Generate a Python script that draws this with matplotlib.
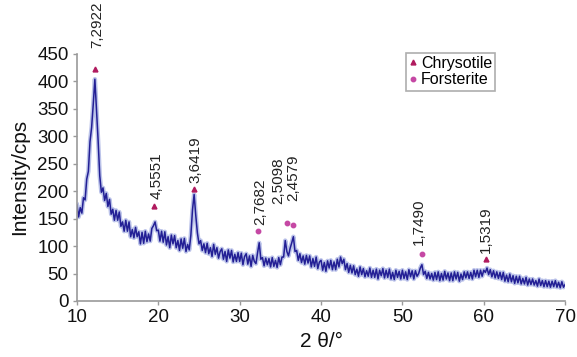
import numpy as np
import matplotlib
matplotlib.use('Agg')
import matplotlib.pyplot as plt

plt.rcParams['font.family'] = ['Liberation Sans', 'DejaVu Sans']

# XRD scan, 2 theta from 10 to 70 deg in 0.2 deg steps
two_theta = np.round(np.arange(10.0, 70.001, 0.2), 1)
intensity = [
    175, 153, 170, 160, 188, 184, 222, 236, 290, 316,   # 10-11.8
    358, 404, 348, 292, 228, 198, 206, 183, 196, 172,   # 12-13.8
    185, 158, 167, 147, 165, 147, 162, 136, 144, 127,   # 14-15.8
    147, 127, 144, 117, 130, 115, 134, 117, 126, 104,   # 16-17.8
    125, 105, 127, 108, 122, 109, 132, 137, 144, 128,   # 18-19.8
    129, 109, 127, 107, 126, 102, 117, 97, 120, 104,    # 20-21.8
    119, 97, 110, 92, 113, 96, 114, 90, 103, 93,        # 22-23.8
    120, 166, 194, 156, 124, 104, 110, 92, 104, 88,     # 24-25.8
    105, 86, 97, 81, 103, 85, 97, 78, 90, 95,           # 26-27.8
    76, 90, 72, 93, 78, 92, 71, 85, 72, 88,             # 28-29.8
    72, 87, 66, 81, 86, 67, 82, 63, 83, 72,             # 30-31.8
    68, 88, 106, 76, 79, 64, 78, 66, 77, 62,            # 32-33.8
    79, 63, 74, 61, 79, 66, 80, 80, 110, 90,            # 34-35.8
    82, 96, 106, 117, 90, 92, 74, 86, 70, 82,           # 36-37.8
    67, 83, 69, 82, 62, 77, 63, 80, 59, 71,             # 38-39.8
    74, 56, 70, 54, 73, 60, 74, 57, 71, 57,             # 40-41.8
    76, 62, 80, 68, 76, 57, 68, 52, 65, 51,             # 42-43.8
    64, 48, 58, 45, 62, 48, 59, 44, 55, 45,             # 44-45.8
    60, 43, 56, 43, 58, 40, 56, 46, 59, 42,             # 46-47.8
    56, 43, 58, 40, 52, 39, 56, 43, 54, 40,             # 48-49.8
    56, 41, 53, 39, 57, 44, 55, 40, 55, 45,             # 50-51.8
    50, 60, 66, 48, 54, 41, 52, 40, 50, 38,             # 52-53.8
    52, 39, 53, 37, 50, 38, 54, 40, 51, 37,             # 54-55.8
    51, 37, 53, 40, 52, 36, 49, 39, 53, 42,             # 56-57.8
    53, 41, 52, 40, 56, 44, 56, 43, 56, 45,             # 58-59.8
    56, 52, 60, 48, 57, 44, 55, 42, 53, 41,             # 60-61.8
    52, 39, 52, 36, 47, 35, 49, 35, 46, 32,             # 62-63.8
    45, 33, 45, 31, 41, 31, 43, 29, 40, 30,             # 64-65.8
    40, 29, 37, 27, 40, 28, 37, 26, 37, 26,             # 66-67.8
    36, 25, 36, 26, 37, 25, 34, 24, 35, 25,             # 68-69.8
    30,                                                 # 70
]

# peak markers: position, height, d-spacing label, phase
peak_pos = [12.2, 19.5, 24.4, 32.3, 35.8, 36.6, 52.4, 60.3]
peak_height = [423, 173, 204, 128, 142, 139, 86, 77]
peak_label = ['7,2922', '4,5551', '3,6419', '2,7682',
              '2,5098', '2,4579', '1,7490', '1,5319']
peak_phase = ['Chrysotile', 'Chrysotile', 'Chrysotile', 'Forsterite',
              'Forsterite', 'Forsterite', 'Forsterite', 'Chrysotile']

# label offsets in points (dx, dy) from the marker
label_offset = [(2, 15), (2, 5), (1, 4), (1, 4), (-6, 14), (0, 17), (-2, 6), (0, 4)]

STYLE = {
    'Chrysotile': dict(marker='^', color='#b01a5e', ms=3.5),
    'Forsterite': dict(marker='o', color='#c548a4', ms=3.2),
}
AXIS_GRAY = '#9a9a9a'

fig = plt.figure(figsize=(5.77, 3.57), dpi=100, facecolor='white')
ax = fig.add_axes([0.1334, 0.157, 0.846, 0.692])

# soft halo then the trace itself
ax.plot(two_theta, intensity, color='#6a7ad0', linewidth=3.2, alpha=0.45,
        solid_joinstyle='round')
ax.plot(two_theta, intensity, color='#231f95', linewidth=1.1,
        solid_joinstyle='round')

for phase in ['Chrysotile', 'Forsterite']:
    xs = [p for p, ph in zip(peak_pos, peak_phase) if ph == phase]
    ys = [h for h, ph in zip(peak_height, peak_phase) if ph == phase]
    st = STYLE[phase]
    ax.plot(xs, ys, linestyle='none', marker=st['marker'], color=st['color'],
            markersize=st['ms'], label=phase, clip_on=False, zorder=5)

for x, y, lab, (dx, dy) in zip(peak_pos, peak_height, peak_label, label_offset):
    ax.annotate(lab, (x, y), xytext=(dx, dy), textcoords='offset points',
                rotation=90, ha='center', va='bottom', fontsize=11,
                color='#222222', annotation_clip=False)

ax.set_xlim(10, 70)
ax.set_ylim(0, 450)
ax.set_xticks(range(10, 71, 10))
ax.set_yticks(range(0, 451, 50))

for side in ['top', 'right']:
    ax.spines[side].set_visible(False)
for side in ['left', 'bottom']:
    ax.spines[side].set_color(AXIS_GRAY)
    ax.spines[side].set_linewidth(1.2)
ax.tick_params(axis='both', direction='out', length=3, width=1,
               color=AXIS_GRAY, labelsize=13.5, labelcolor='#111111', pad=3)

ax.set_xlabel('2 θ/°', fontsize=15, color='#111111', labelpad=4)
ax.set_ylabel('Intensity/cps', fontsize=15, color='#111111', labelpad=6)

leg = ax.legend(loc='upper left', bbox_to_anchor=(0.675, 1.005), fontsize=11.5,
                frameon=True, fancybox=False, borderpad=0.2, handlelength=0.4,
                handletextpad=0.3, labelspacing=0.1, borderaxespad=0,
                markerscale=1.0)
leg.get_frame().set_edgecolor(AXIS_GRAY)
leg.get_frame().set_linewidth(1.2)

fig.savefig('out.png', dpi=100, facecolor='white')
